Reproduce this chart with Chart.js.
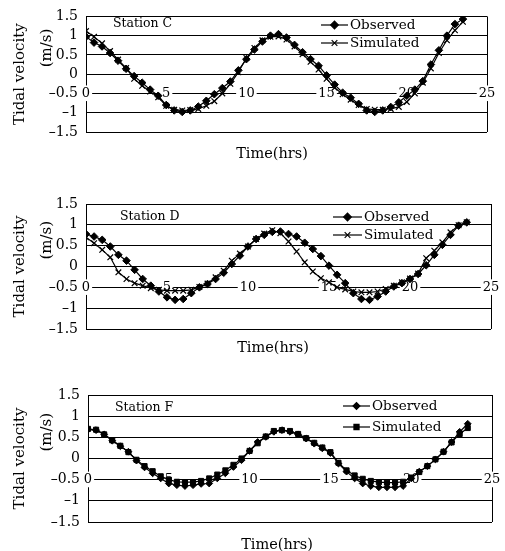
<!DOCTYPE html>
<html>
<head>
<meta charset="utf-8">
<script src="https://cdn.jsdelivr.net/npm/chart.js@4.4.1/dist/chart.umd.min.js"></script>
<style>
  html, body { margin: 0; padding: 0; background: #fff; }
  #wrap { position: relative; width: 505px; height: 551px; }
  canvas { position: absolute; left: 0; }
</style>
</head>
<body>
<div id="wrap">
  <canvas id="chartC" width="505" height="175" style="top:0px"></canvas>
  <canvas id="chartD" width="505" height="180" style="top:180px"></canvas>
  <canvas id="chartF" width="505" height="181" style="top:370px"></canvas>
</div>
<script>
// time of each reading (hrs)
const hours = [0, 0.5, 1, 1.5, 2, 2.5, 3, 3.5, 4, 4.5, 5, 5.5, 6, 6.5, 7, 7.5, 8, 8.5, 9, 9.5,
  10, 10.5, 11, 11.5, 12, 12.5, 13, 13.5, 14, 14.5, 15, 15.5, 16, 16.5, 17, 17.5, 18, 18.5, 19, 19.5,
  20, 20.5, 21, 21.5, 22, 22.5, 23, 23.5];

const xTicks = [0, 5, 10, 15, 20, 25];
const yTicks = [-1.5, -1, -0.5, 0, 0.5, 1, 1.5];
const seriesNames = ['Observed', 'Simulated'];

// Station C (m/s)
const observedC = [0.97, 0.82, 0.72, 0.55, 0.35, 0.14, -0.05, -0.22, -0.40, -0.56,
  -0.80, -0.94, -0.98, -0.94, -0.84, -0.69, -0.52, -0.36, -0.19, 0.10,
  0.39, 0.64, 0.85, 1.00, 1.04, 0.95, 0.76, 0.57, 0.39, 0.22,
  -0.03, -0.27, -0.48, -0.61, -0.77, -0.94, -0.98, -0.94, -0.85, -0.73,
  -0.56, -0.40, -0.18, 0.25, 0.62, 1.00, 1.30, 1.43];
const simulatedC = [1.12, 0.97, 0.80, 0.60, 0.38, 0.16, -0.12, -0.30, -0.45, -0.60,
  -0.82, -0.92, -0.94, -0.93, -0.90, -0.82, -0.70, -0.50, -0.25, 0.05,
  0.42, 0.68, 0.88, 0.97, 0.98, 0.90, 0.72, 0.52, 0.32, 0.12,
  -0.12, -0.35, -0.52, -0.66, -0.80, -0.90, -0.92, -0.92, -0.90, -0.85,
  -0.72, -0.50, -0.22, 0.15, 0.55, 0.88, 1.14, 1.36];

// Station D (m/s)
const observedD = [0.78, 0.72, 0.64, 0.48, 0.28, 0.14, -0.08, -0.30, -0.46, -0.60,
  -0.74, -0.80, -0.78, -0.64, -0.50, -0.42, -0.30, -0.15, 0.06, 0.26,
  0.48, 0.66, 0.76, 0.83, 0.84, 0.78, 0.72, 0.57, 0.42, 0.25,
  0.02, -0.20, -0.40, -0.64, -0.78, -0.80, -0.72, -0.60, -0.48, -0.40,
  -0.30, -0.18, 0.03, 0.28, 0.52, 0.76, 0.98, 1.06];
const simulatedD = [0.70, 0.56, 0.40, 0.22, -0.14, -0.30, -0.40, -0.46, -0.52, -0.56,
  -0.58, -0.58, -0.58, -0.56, -0.49, -0.41, -0.26, -0.10, 0.14, 0.31,
  0.48, 0.66, 0.79, 0.87, 0.80, 0.60, 0.36, 0.10, -0.12, -0.28,
  -0.38, -0.50, -0.55, -0.60, -0.62, -0.62, -0.60, -0.54, -0.46, -0.38,
  -0.29, -0.17, 0.20, 0.38, 0.58, 0.82, 0.99, 1.06];

// Station F (m/s)
const observedF = [0.68, 0.67, 0.57, 0.42, 0.29, 0.16, -0.05, -0.21, -0.35, -0.47,
  -0.59, -0.63, -0.65, -0.63, -0.60, -0.59, -0.47, -0.35, -0.20, -0.04,
  0.18, 0.39, 0.51, 0.63, 0.67, 0.63, 0.57, 0.47, 0.35, 0.24,
  0.13, -0.12, -0.31, -0.47, -0.59, -0.65, -0.68, -0.68, -0.68, -0.65,
  -0.47, -0.31, -0.18, -0.02, 0.16, 0.39, 0.63, 0.82];
const simulatedF = [0.70, 0.68, 0.57, 0.43, 0.30, 0.15, -0.03, -0.18, -0.30, -0.42,
  -0.50, -0.55, -0.56, -0.56, -0.53, -0.47, -0.38, -0.28, -0.15, 0.00,
  0.18, 0.36, 0.52, 0.65, 0.67, 0.65, 0.58, 0.48, 0.37, 0.26,
  0.15, -0.10, -0.28, -0.40, -0.48, -0.53, -0.56, -0.57, -0.57, -0.55,
  -0.45, -0.32, -0.18, -0.02, 0.16, 0.38, 0.58, 0.72];

const FONT = '"DejaVu Serif", "Liberation Serif", serif';
const NB = '\u00A0';

// text inside / under the plot: station name, legend, x title
const annotate = {
  id: 'annotate',
  afterDraw(chart, args, o) {
    const ctx = chart.ctx;
    ctx.save();
    ctx.fillStyle = '#000';
    ctx.strokeStyle = '#000';
    ctx.textBaseline = 'middle';
    ctx.font = '12.5px ' + FONT;
    ctx.fillText(o.station, o.stationX, o.stationY);

    ctx.font = '13.5px ' + FONT;
    chart.data.datasets.forEach((ds, i) => {
      const y = o.legendY[i];
      ctx.lineWidth = 1.2;
      ctx.beginPath();
      ctx.moveTo(o.legendX, y);
      ctx.lineTo(o.legendX + o.legendLen, y);
      ctx.stroke();
      Chart.helpers.drawPoint(ctx, {
        pointStyle: ds.pointStyle,
        radius: ds.pointRadius,
        borderWidth: ds.pointBorderWidth || 1,
      }, o.legendX + o.legendLen / 2, y);
      ctx.fillStyle = '#000';
      ctx.fillText(ds.label, o.legendX + o.legendLen + 2, y);
    });

    ctx.font = '14.5px ' + FONT;
    ctx.textAlign = 'center';
    ctx.fillText('Time(hrs)', o.titleX, o.titleY);
    ctx.restore();
  },
};

function makeChart(id, obs, sim, opts) {
  const simStyle = opts.squares
    ? { pointStyle: 'rect', pointRadius: 3.6, pointBackgroundColor: '#000', pointBorderWidth: 1 }
    : { pointStyle: 'crossRot', pointRadius: 4, pointBackgroundColor: '#000', pointBorderWidth: 1.2 };
  return new Chart(document.getElementById(id), {
    type: 'line',
    data: {
      labels: hours,
      datasets: [
        {
          label: seriesNames[0],
          data: obs,
          borderColor: '#000',
          borderWidth: 1.2,
          pointStyle: 'rectRot',
          pointRadius: opts.squares ? 3.4 : 3.8,
          pointBackgroundColor: '#000',
          pointBorderColor: '#000',
          pointBorderWidth: 1,
          tension: 0,
        },
        Object.assign({
          label: seriesNames[1],
          data: sim,
          borderColor: '#000',
          borderWidth: 1.2,
          pointBorderColor: '#000',
          tension: 0,
        }, simStyle),
      ],
    },
    options: {
      responsive: false,
      animation: false,
      events: [],
      layout: { padding: { top: opts.top, bottom: opts.bottom, left: 0, right: opts.right } },
      plugins: {
        legend: { display: false },
        tooltip: { enabled: false },
        annotate: opts.text,
      },
      scales: {
        y: {
          min: -1.5,
          max: 1.5,
          afterBuildTicks: (s) => { s.ticks = yTicks.map((v) => ({ value: v })); },
          afterFit: (s) => { s.width = opts.left; },
          border: { display: true, color: '#000', width: 1, z: -1 },
          grid: { drawTicks: false, color: '#000', lineWidth: 1, z: -1 },
          ticks: {
            padding: 8,
            color: '#000',
            font: { family: FONT, size: 14 },
            callback: (v) => String(Math.round(v * 10) / 10).replace('-', '\u2013'),
          },
          title: {
            display: true,
            text: ['Tidal velocity', NB.repeat(11) + '(m/s)'],
            color: '#000',
            font: { family: FONT, size: 15, lineHeight: 1.8 },
            padding: { top: 6.5, bottom: 0 },
          },
        },
        x: {
          type: 'linear',
          position: { y: -0.5 },
          min: 0,
          max: 25,
          afterBuildTicks: (s) => { s.ticks = xTicks.map((v) => ({ value: v })); },
          border: { display: false },
          grid: {
            drawTicks: false,
            color: (c) => (c.tick && (c.tick.value === 0 || c.tick.value === 25) ? '#000' : 'rgba(0,0,0,0)'),
          },
          ticks: {
            padding: -8,
            maxRotation: 0,
            autoSkip: false,
            color: '#000',
            font: { family: FONT, size: 13 },
            showLabelBackdrop: true,
            backdropColor: '#fff',
            backdropPadding: { top: 0, bottom: 0, left: 2, right: 2 },
          },
        },
      },
    },
    plugins: [annotate],
  });
}

makeChart('chartC', observedC, simulatedC, {
  top: 12, bottom: 43, right: 18, left: 86,
  text: { station: 'Station C', stationX: 113, stationY: 24,
    legendX: 321, legendLen: 27, legendY: [25, 43], titleX: 272, titleY: 154 },
});
makeChart('chartD', observedD, simulatedD, {
  top: 24, bottom: 31, right: 14, left: 86,
  text: { station: 'Station D', stationX: 120, stationY: 37,
    legendX: 333, legendLen: 29, legendY: [37, 55], titleX: 273, titleY: 168 },
});
makeChart('chartF', observedF, simulatedF, {
  top: 25, bottom: 29, right: 13, left: 88, squares: true,
  text: { station: 'Station F', stationX: 115, stationY: 38,
    legendX: 343, legendLen: 27, legendY: [36, 57], titleX: 277, titleY: 175 },
});
</script>
</body>
</html>
